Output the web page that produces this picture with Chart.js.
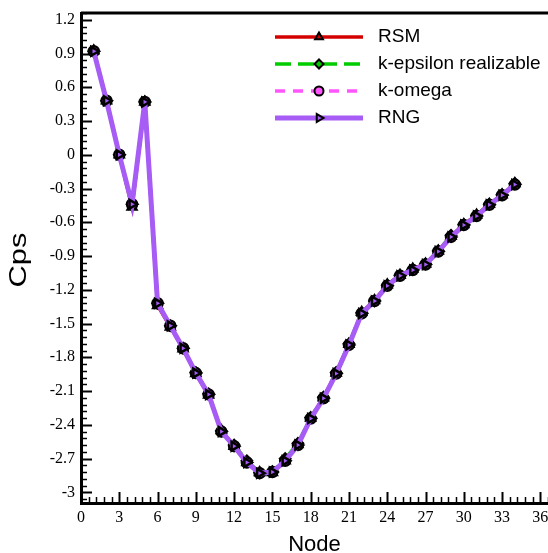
<!DOCTYPE html>
<html>
<head>
<meta charset="utf-8">
<script src="https://cdn.jsdelivr.net/npm/chart.js@4.4.0/dist/chart.umd.min.js"></script>
<style>
  body { margin: 0; background: #fff; }
</style>
</head>
<body>
<canvas id="cpsChart" width="548" height="553"></canvas>
<script>
// pressure coefficient along the nodes, one array per turbulence model
var nodes = [1, 2, 3, 4, 5, 6, 7, 8, 9, 10, 11, 12, 13, 14, 15, 16, 17,
             18, 19, 20, 21, 22, 23, 24, 25, 26, 27, 28, 29, 30, 31, 32, 33, 34];

var rsm      = [0.925, 0.48, 0.0, -0.465, 0.47, -1.34, -1.53, -1.725, -1.945, -2.135, -2.45, -2.59, -2.735, -2.825, -2.825, -2.72, -2.575,
                -2.34, -2.16, -1.94, -1.685, -1.40, -1.295, -1.155, -1.07, -1.015, -0.97, -0.855, -0.725, -0.62, -0.535, -0.44, -0.355, -0.255];
var kEpsilon = [0.92, 0.48, 0.0, -0.44, 0.47, -1.32, -1.52, -1.72, -1.935, -2.125, -2.455, -2.58, -2.72, -2.825, -2.815, -2.70, -2.565,
                -2.335, -2.155, -1.935, -1.68, -1.405, -1.30, -1.16, -1.07, -1.02, -0.97, -0.855, -0.715, -0.62, -0.54, -0.44, -0.355, -0.255];
var kOmega   = [0.92, 0.48, 0.0, -0.44, 0.47, -1.32, -1.52, -1.72, -1.94, -2.13, -2.46, -2.59, -2.735, -2.83, -2.82, -2.72, -2.58,
                -2.345, -2.165, -1.945, -1.69, -1.41, -1.30, -1.165, -1.075, -1.025, -0.975, -0.86, -0.73, -0.625, -0.545, -0.445, -0.36, -0.265];
var rng      = [0.92, 0.48, 0.0, -0.44, 0.47, -1.32, -1.52, -1.72, -1.94, -2.13, -2.46, -2.59, -2.735, -2.83, -2.82, -2.72, -2.58,
                -2.345, -2.165, -1.945, -1.69, -1.41, -1.30, -1.165, -1.075, -1.025, -0.975, -0.86, -0.73, -0.625, -0.545, -0.445, -0.36, -0.265];

var xTicks = [0, 3, 6, 9, 12, 15, 18, 21, 24, 27, 30, 33, 36];
var yTicks = [-3, -2.7, -2.4, -2.1, -1.8, -1.5, -1.2, -0.9, -0.6, -0.3, 0, 0.3, 0.6, 0.9, 1.2];

function toPoints(vals) {
  return nodes.map(function(n, i) { return { x: n, y: vals[i] }; });
}

function series(label, vals, color, width, dash, style, rotation, order) {
  return {
    label: label,
    data: toPoints(vals),
    borderColor: color,
    backgroundColor: color,
    borderWidth: width,
    borderDash: dash,
    pointStyle: style,
    pointRotation: rotation,
    pointRadius: 5,
    pointHoverRadius: 5,
    pointBackgroundColor: color,
    pointBorderColor: '#000',
    pointBorderWidth: 2.5,
    tension: 0,
    order: order
  };
}

// no extra room around the axes, the plot box is fixed
function noPadding(scale) {
  scale.paddingLeft = 0;
  scale.paddingRight = 0;
  scale.paddingTop = 0;
  scale.paddingBottom = 0;
}

// inward ticks, top frame line, legend and the rotated y title
var decorations = {
  id: 'decorations',
  afterDraw: function(chart) {
    var ctx = chart.ctx, area = chart.chartArea;
    var xs = chart.scales.x, ys = chart.scales.y;
    ctx.save();
    ctx.strokeStyle = '#000';
    ctx.lineWidth = 3;
    ctx.beginPath();
    ctx.moveTo(area.left, area.top);
    ctx.lineTo(area.right, area.top);
    ctx.stroke();

    var k, px, major;
    for (k = 0; k * 0.6 <= xs.max + 1e-9; k++) {
      major = k % 5 === 0;
      px = Math.round(xs.getPixelForValue(k * 0.6)) + 0.5;
      ctx.lineWidth = major ? 2 : 1.5;
      ctx.beginPath();
      ctx.moveTo(px, area.bottom);
      ctx.lineTo(px, area.bottom - (major ? 11 : 6));
      ctx.stroke();
    }
    for (k = Math.ceil(ys.min / 0.06 - 1e-9); k * 0.06 <= ys.max + 1e-9; k++) {
      major = k % 5 === 0;
      px = Math.round(ys.getPixelForValue(k * 0.06)) + 0.5;
      ctx.lineWidth = major ? 2 : 1.5;
      ctx.beginPath();
      ctx.moveTo(area.left, px);
      ctx.lineTo(area.left + (major ? 11 : 6), px);
      ctx.stroke();
    }

    // legend
    var draw = Chart.helpers && Chart.helpers.drawPoint;
    chart.data.datasets.forEach(function(ds, i) {
      var y = 37 + i * 27;
      ctx.save();
      ctx.strokeStyle = ds.borderColor;
      ctx.lineWidth = ds.borderWidth;
      ctx.setLineDash(ds.borderDash || []);
      ctx.beginPath();
      ctx.moveTo(275, y);
      ctx.lineTo(363, y);
      ctx.stroke();
      ctx.setLineDash([]);
      ctx.fillStyle = ds.pointBackgroundColor;
      ctx.strokeStyle = '#000';
      ctx.lineWidth = 2;
      if (draw) {
        draw(ctx, { pointStyle: ds.pointStyle, rotation: ds.pointRotation || 0, radius: 4.5, borderWidth: 2 }, 319, y);
      }
      ctx.fillStyle = '#000';
      ctx.font = '19px "Liberation Sans", Arial, sans-serif';
      ctx.textBaseline = 'middle';
      ctx.textAlign = 'left';
      ctx.fillText(ds.label, 378, y);
      ctx.restore();
    });

    ctx.translate(20, 260);
    ctx.rotate(-Math.PI / 2);
    ctx.scale(1.34, 1);
    ctx.fillStyle = '#000';
    ctx.font = '23px "Liberation Sans", Arial, sans-serif';
    ctx.textAlign = 'center';
    ctx.textBaseline = 'middle';
    ctx.fillText('Cps', 0, 0);
    ctx.restore();
  }
};

var tickFont = { family: '"Liberation Serif", "Times New Roman", serif', size: 16 };

new Chart(document.getElementById('cpsChart'), {
  type: 'line',
  data: {
    datasets: [
      series('RSM', rsm, '#d40000', 3.5, [], 'triangle', 0, 4),
      series('k-epsilon realizable', kEpsilon, '#00cc00', 3.5, [16, 7], 'rectRot', 0, 3),
      series('k-omega', kOmega, '#ff55ff', 3.5, [10, 8], 'circle', 0, 2),
      series('RNG', rng, '#a65cf5', 5, [], 'triangle', 90, 1)
    ]
  },
  options: {
    responsive: false,
    animation: false,
    layout: { autoPadding: false, padding: { top: 13, right: 0, left: 0, bottom: 0 } },
    plugins: {
      legend: { display: false },
      tooltip: { enabled: false }
    },
    scales: {
      x: {
        type: 'linear',
        min: 0,
        max: 36.6,
        afterBuildTicks: function(scale) {
          scale.ticks = xTicks.map(function(v) { return { value: v }; });
        },
        afterFit: function(scale) {
          scale.height = 50;
          noPadding(scale);
        },
        grid: { display: false, drawTicks: false },
        border: { display: true, color: '#000', width: 3 },
        ticks: { color: '#000', font: tickFont, padding: 5, maxRotation: 0, autoSkip: false },
        title: {
          display: true,
          text: 'Node',
          color: '#000',
          font: { family: '"Liberation Sans", Arial, sans-serif', size: 22, lineHeight: 0.75 },
          padding: 0
        }
      },
      y: {
        type: 'linear',
        min: -3.095,
        max: 1.26,
        afterBuildTicks: function(scale) {
          scale.ticks = yTicks.map(function(v) { return { value: v }; });
        },
        afterFit: function(scale) {
          scale.width = 81;
          noPadding(scale);
        },
        grid: { display: false, drawTicks: false },
        border: { display: true, color: '#000', width: 3 },
        ticks: {
          color: '#000',
          font: tickFont,
          padding: 6,
          autoSkip: false,
          callback: function(v) { return String(Math.round(v * 10) / 10); }
        }
      }
    }
  },
  plugins: [decorations]
});
</script>
</body>
</html>
